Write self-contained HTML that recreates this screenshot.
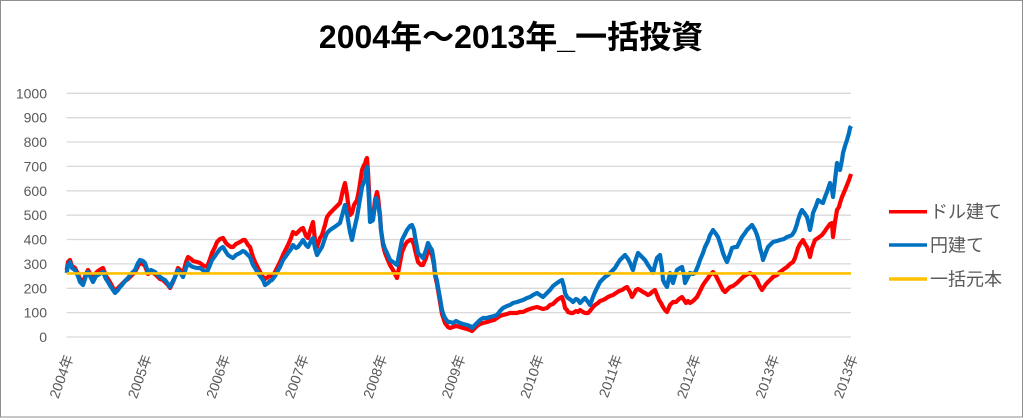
<!DOCTYPE html>
<html><head><meta charset="utf-8">
<style>
html,body{margin:0;padding:0;background:#fff;}
svg{display:block;}
text{font-family:"Liberation Sans","Noto Sans CJK JP",sans-serif;}
</style></head>
<body>
<svg width="1024" height="418" viewBox="0 0 1024 418" xmlns="http://www.w3.org/2000/svg">
<rect x="0" y="0" width="1024" height="418" fill="#fff"/>
<rect x="0.5" y="0.5" width="1022" height="416.5" fill="none" stroke="#8f8f8f" stroke-width="1"/>
<text x="511" y="48" text-anchor="middle" font-size="32" font-weight="bold" fill="#000">2004年～2013年_一括投資</text>
<g stroke="#D9D9D9" stroke-width="1.3">
<line x1="66.7" x2="851" y1="337" y2="337"/>
<line x1="66.7" x2="851" y1="312.6" y2="312.6"/>
<line x1="66.7" x2="851" y1="288.3" y2="288.3"/>
<line x1="66.7" x2="851" y1="263.9" y2="263.9"/>
<line x1="66.7" x2="851" y1="239.5" y2="239.5"/>
<line x1="66.7" x2="851" y1="215.2" y2="215.2"/>
<line x1="66.7" x2="851" y1="190.8" y2="190.8"/>
<line x1="66.7" x2="851" y1="166.4" y2="166.4"/>
<line x1="66.7" x2="851" y1="142" y2="142"/>
<line x1="66.7" x2="851" y1="117.7" y2="117.7"/>
<line x1="66.7" x2="851" y1="93.3" y2="93.3"/>
</g>
<g font-size="14" fill="#595959" text-anchor="end">
<text x="47" y="342">0</text>
<text x="47" y="317.6">100</text>
<text x="47" y="293.3">200</text>
<text x="47" y="268.9">300</text>
<text x="47" y="244.5">400</text>
<text x="47" y="220.2">500</text>
<text x="47" y="195.8">600</text>
<text x="47" y="171.4">700</text>
<text x="47" y="147">800</text>
<text x="47" y="122.7">900</text>
<text x="47" y="98.3">1000</text>
</g>
<g font-size="14" fill="#595959" text-anchor="end">
<text transform="translate(73.7,357) rotate(-70)">2004年</text>
<text transform="translate(152.1,357) rotate(-70)">2005年</text>
<text transform="translate(230.5,357) rotate(-70)">2006年</text>
<text transform="translate(309,357) rotate(-70)">2007年</text>
<text transform="translate(387.4,357) rotate(-70)">2008年</text>
<text transform="translate(465.8,357) rotate(-70)">2009年</text>
<text transform="translate(544.3,357) rotate(-70)">2010年</text>
<text transform="translate(622.7,357) rotate(-70)">2011年</text>
<text transform="translate(701.1,357) rotate(-70)">2012年</text>
<text transform="translate(779.6,357) rotate(-70)">2013年</text>
<text transform="translate(858,357) rotate(-70)">2013年</text>
</g>
<polyline fill="none" stroke="#FF0000" stroke-width="4.2" stroke-linejoin="round" points="66.7,270 68,262 70,260 72,266 75,268 78,274 80,279 83,282 86,274 88,270 91,275 93,279 96,273 98,271 101,269 103,268 106,276 108,279 111,284 113,288 115,291 118,288 120,286 122,284 125,281 128,279 131,276 135,272 138,266 140,263 143,264 145,266 148,274 151,272 155,274 158,277 160,279 163,280 165,282 168,285 170,288 173,282 175,277 178,268 181,271 183,274 186,262 188,257 191,259 193,261 197,262 200,263 204,266 207,267 210,259 212,253 215,247 217,242 220,239 223,238 226,243 228,245 231,247 233,247 236,244 240,242 243,240 245,240 248,245 250,247 253,257 255,262 258,268 260,272 263,277 265,279 268,277 270,275 272,277 275,272 277,268 280,262 283,255 286,249 288,245 291,238 293,232 296,234 298,232 301,229 303,228 306,236 308,238 311,228 313,222 315,240 317,247 320,238 322,235 325,225 327,217 330,213 333,210 336,207 340,203 343,190 345,183 347,195 348,203 350,215 352,213 354,205 357,200 359,190 362,170 364,165 365,164 366,160 367,158 368,172 369,190 370,215 372,216 373,218 375,200 377,192 378,197 380,215 381,230 383,245 385,253 387,258 390,265 393,270 397,278 399,268 402,252 405,245 407,242 410,240 412,240 414,245 415,250 417,258 418,262 421,265 423,265 426,258 428,250 430,252 432,255 434,265 435,275 437,284 438,290 440,302 442,314 444,320 445,323 448,327 450,328 453,327 456,326 460,327 463,328 467,329 470,330 472,331 475,328 477,326 480,324 483,323 487,322 490,321 494,320 497,318 500,316 503,315 507,314 510,313 513,313 517,313 520,312 523,312 527,310 530,309 533,308 537,307 540,308 543,309 547,308 550,305 553,304 557,300 560,298 562,297 564,303 565,308 567,310 568,312 571,313 573,313 576,311 578,312 580,310 583,312 585,313 588,313 590,311 593,307 595,305 598,303 600,301 603,300 605,299 608,297 610,296 613,295 616,293 619,291 622,290 625,288 627,287 630,292 632,297 634,294 636,290 638,289 640,290 643,292 645,293 648,295 650,294 652,292 655,290 657,295 659,300 661,303 663,307 665,310 667,312 670,305 673,302 676,302 679,299 682,297 684,300 686,303 688,301 690,303 693,301 695,299 697,297 700,291 703,285 705,282 708,278 710,275 713,272 716,276 718,280 721,286 723,290 725,292 727,290 730,287 733,286 737,283 740,280 743,277 746,275 750,273 753,275 757,280 759,285 762,290 764,287 766,284 768,282 771,279 773,277 777,275 780,272 784,269 787,267 790,264 793,262 795,258 798,248 800,244 803,240 805,244 807,247 809,253 810,257 812,248 815,240 818,238 822,235 825,231 827,228 830,224 832,223 833,237 835,222 837,210 839,207 840,203 842,197 845,190 847,185 849,180 850,177 851,174"/>
<polyline fill="none" stroke="#0070C0" stroke-width="4.2" stroke-linejoin="round" points="66.7,273 68,265 70,262 72,268 75,270 78,276 80,282 83,285 86,276 88,272 91,278 93,282 96,276 98,275 101,273 103,272 106,279 108,282 111,287 113,290 115,293 118,290 120,287 122,285 125,281 128,278 131,274 135,270 138,263 140,260 143,261 145,263 148,272 151,270 155,272 158,275 160,277 163,279 165,280 168,284 170,287 173,281 175,277 178,270 181,274 183,277 186,268 188,263 191,266 193,267 197,268 200,268 204,271 207,272 210,265 212,260 215,256 217,253 220,249 223,247 226,252 228,255 231,257 233,258 236,255 240,253 243,251 245,252 248,255 250,257 253,265 255,268 258,273 260,276 263,280 265,285 268,283 270,281 272,280 275,276 277,272 280,267 283,260 286,256 288,253 291,249 293,245 296,248 298,247 301,243 303,240 306,245 308,247 311,241 313,238 315,248 317,255 320,250 322,247 325,238 327,233 330,230 333,228 336,226 340,223 343,212 345,205 347,214 348,220 350,232 352,240 354,230 357,217 359,205 362,187 364,182 365,180 366,172 367,167 368,183 369,200 370,222 372,221 373,220 375,205 376,198 378,203 380,217 381,230 383,243 385,249 387,253 390,260 393,262 397,265 399,255 402,240 405,234 407,230 410,226 412,225 414,230 415,237 417,247 418,253 421,256 423,258 426,250 428,243 430,247 432,250 434,262 435,273 437,281 438,287 440,298 442,310 444,316 445,318 448,322 450,322 453,323 456,321 460,323 463,324 467,325 470,326 472,328 475,325 477,323 480,320 483,318 487,318 490,317 494,316 497,315 500,311 503,308 507,306 510,305 513,303 517,302 520,301 523,300 527,298 530,297 533,295 537,293 540,295 543,297 547,293 550,290 553,286 557,283 560,281 562,280 564,287 565,293 567,297 568,298 571,300 573,302 576,299 578,300 580,303 583,300 585,298 588,302 590,305 593,297 595,292 598,286 600,282 603,279 605,277 608,275 610,273 613,270 615,268 618,263 620,260 623,257 625,255 628,259 630,263 632,268 633,270 635,262 638,253 640,255 643,258 645,260 648,265 650,268 652,271 653,273 655,265 657,258 659,256 660,255 662,268 663,280 665,284 667,287 669,278 670,273 672,280 673,283 675,276 677,270 680,268 682,267 684,275 685,283 688,277 690,273 693,274 695,273 698,266 700,260 703,253 705,247 708,241 710,235 712,232 713,230 716,234 718,237 721,246 723,253 725,258 727,262 730,254 732,248 735,247 737,247 740,241 742,237 745,233 747,230 750,227 752,225 755,230 757,235 759,242 760,248 762,255 763,260 766,252 768,247 771,244 773,242 777,241 780,240 784,239 787,237 790,236 792,235 794,232 795,230 797,224 798,220 800,214 802,210 805,214 807,217 809,225 810,230 812,220 813,213 816,206 818,200 821,202 823,203 825,197 827,192 829,186 830,183 832,190 833,197 835,180 837,163 839,168 840,170 842,160 843,153 845,146 847,140 849,133 850,128 851,126"/>
<line x1="66.7" x2="851" y1="273.4" y2="273.4" stroke="#FFC000" stroke-width="2.6"/>
<g stroke-width="3.5">
<line x1="889" x2="927" y1="211.7" y2="211.7" stroke="#FF0000"/>
<line x1="889" x2="927" y1="245" y2="245" stroke="#0070C0"/>
<line x1="889" x2="927" y1="279" y2="279" stroke="#FFC000"/>
</g>
<g font-size="18" fill="#595959">
<text x="930" y="218">ドル建て</text>
<text x="930" y="251.5">円建て</text>
<text x="930" y="285.5">一括元本</text>
</g>
</svg>
</body></html>
